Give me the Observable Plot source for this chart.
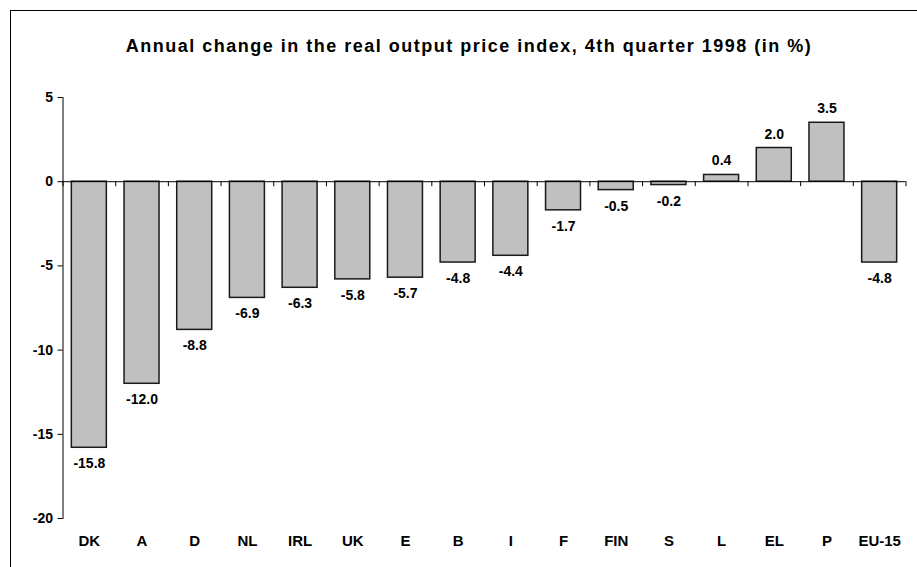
<!DOCTYPE html>
<html><head><meta charset="utf-8">
<script src="https://cdn.jsdelivr.net/npm/d3@7"></script>
<script src="https://cdn.jsdelivr.net/npm/@observablehq/plot@0.6"></script>
<style>
html,body{margin:0;padding:0;background:#fff;overflow:hidden;}
body{width:917px;height:567px;position:relative;font-family:"Liberation Sans",Arial,sans-serif;color:#000;}
#frame{position:absolute;left:10px;top:10px;width:1000px;height:1000px;border-left:1px solid #000;border-top:1px solid #000;pointer-events:none;}
#title{position:relative;height:75px;box-sizing:border-box;padding-top:37px;padding-left:10px;width:928px;text-align:center;font-size:18px;line-height:18px;font-weight:bold;letter-spacing:1.5px;white-space:nowrap;}
#chart{position:relative;height:492px;}
#chart svg{display:block;}
</style></head>
<body>
<div id="frame"></div>
<div id="title">Annual change in the real output price index, 4th quarter 1998 (in %)</div>
<div id="chart"></div>
<script>
const countries = ["DK","A","D","NL","IRL","UK","E","B","I","F","FIN","S","L","EL","P","EU-15"];
const changes = [-15.8,-12.0,-8.8,-6.9,-6.3,-5.8,-5.7,-4.8,-4.4,-1.7,-0.5,-0.2,0.4,2.0,3.5,-4.8];
const yTicks = [5,0,-5,-10,-15,-20];

const data = countries.map((c,i)=>({country:c, value:changes[i]}));
const W = 917, H = 492, ML = 62.5, MR = 11.5;
const step = (W - ML - MR) / countries.length;
const pIn = 0.336;

const chart = Plot.plot({
  width: W, height: H,
  marginTop: 22, marginBottom: 49, marginLeft: ML, marginRight: MR,
  style: {fontFamily: "'Liberation Sans', Arial, sans-serif", background: "transparent", overflow: "visible", color: "#000"},
  x: {domain: countries, paddingInner: pIn, paddingOuter: pIn/2, round: false, label: null},
  y: {domain: [-20, 5], label: null},
  marks: [
    Plot.barY(data, {x: "country", y: "value", fill: "#c0c0c0", stroke: "#1a1a1a", strokeWidth: 1.5}),
    Plot.ruleY([0], {stroke: "#000", strokeWidth: 1}),
    Plot.ruleX(countries, {x: d => d, y1: 0, y2: 0, dx: -step/2, insetBottom: -5, stroke: "#000"}),
    Plot.ruleX(countries.slice(-1), {x: d => d, y1: 0, y2: 0, dx: step/2, insetBottom: -5, stroke: "#000"}),
    Plot.frame({anchor: "left", stroke: "#000"}),
    Plot.axisY({ticks: yTicks, tickSize: 5, tickPadding: 5, tickFormat: d => String(d), fontSize: 14, fontWeight: "bold", stroke: "#000", fill: "#000"}),
    Plot.axisX({tickSize: 0, tickPadding: 17, fontSize: 15, fontWeight: "bold", fill: "#000"}),
    Plot.text(data.filter(d => d.value < 0), {x: "country", y: "value", text: d => d.value.toFixed(1), dy: 16, fontSize: 14, fontWeight: "bold", fill: "#000"}),
    Plot.text(data.filter(d => d.value >= 0), {x: "country", y: "value", text: d => d.value.toFixed(1), dy: -14, fontSize: 14, fontWeight: "bold", fill: "#000"})
  ]
});
document.getElementById("chart").appendChild(chart);
</script>
</body></html>
